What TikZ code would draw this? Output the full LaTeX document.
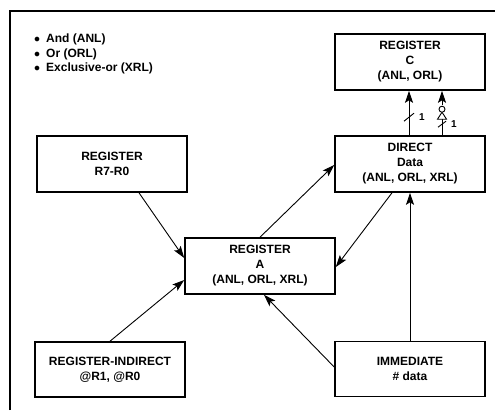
\documentclass[tikz,border=0pt]{standalone}
\usepackage{fontspec}
\setmainfont{Liberation Sans}
\usetikzlibrary{arrows.meta,calc}
\begin{document}
\begin{tikzpicture}[x=1pt,y=-1pt,
  box/.style={draw,line width=1.6pt,minimum width=150pt,minimum height=56pt,align=center,font=\bfseries\fontsize{12}{15}\selectfont,inner sep=0pt},
  conn/.style={line width=0.9pt,-{Stealth[length=12pt,width=8pt,inset=2.5pt]}},
  lbl/.style={font=\bfseries\fontsize{10}{11}\selectfont,inner sep=0pt}]
\useasboundingbox (0,0) rectangle (500,410);
\draw[line width=1.4pt] (10,410) -- (10,11) -- (495,11);
\node[anchor=north west,align=left,font=\bfseries\fontsize{12}{14.5}\selectfont,inner sep=0pt] (list) at (34,34)
  {$\bullet$\enspace And (ANL)\\ $\bullet$\enspace Or (ORL)\\ $\bullet$\enspace Exclusive-or (XRL)};
\node[box] (C) at (410,62) {REGISTER\\C\\(ANL, ORL)};
\node[box] (D) at (410,164) {DIRECT\\Data\\(ANL, ORL, XRL)};
\node[box] (R) at (112,164) {REGISTER\\R7-R0};
\node[box] (A) at (260,266) {REGISTER\\A\\(ANL, ORL, XRL)};
\node[box,minimum height=55pt] (I) at (110,369.5) {REGISTER-INDIRECT\\@R1, @R0};
\node[box,minimum height=55pt] (M) at (410,369) {IMMEDIATE\\\# data};
% connectors
\draw[conn] (R.south) ++(27,0) coordinate (r1) -- ($(A.west)+(0,-8)$);
\draw[conn] (I.north) -- ($(A.west)+(0,14)$);
\draw[conn] ($(M.west)+(0,-2)$) -- ($(A.south)+(4,0)$);
\draw[conn] (A.north) -- ($(D.west)+(0,1)$);
\draw[conn] ($(D.south)+(-18,0)$) -- ($(A.east)+(0,1)$);
\draw[conn] (M.north) -- (D.south);
% to C
\draw[conn] ($(D.north)+(-1,0)$) coordinate (d1) -- ($(C.south)+(-1,0)$);
\draw[line width=0.9pt] ($(d1)+(-5,-14)$) -- ($(d1)+(5,-22)$);
\node[lbl] (n1) at ($(d1)+(13,-18)$) {1};
\coordinate (d2) at ($(D.north)+(32,0)$);
\draw[conn] (d2) -- ($(C.south)+(32,0)$);
\fill[white] ($(d2)+(-4,-16)$) rectangle ($(d2)+(4,-30)$);
\draw[line width=0.9pt,fill=white] ($(d2)+(-4.5,-16)$) -- ($(d2)+(4.5,-16)$) -- ($(d2)+(0,-23)$) -- cycle;
\draw[line width=0.9pt,fill=white] ($(d2)+(0,-26)$) circle (3pt);
\draw[line width=0.9pt] ($(d2)+(-4,-8)$) -- ($(d2)+(4,-14)$);
\node[lbl] (n2) at ($(d2)+(12,-11)$) {1};
\end{tikzpicture}
\end{document}
